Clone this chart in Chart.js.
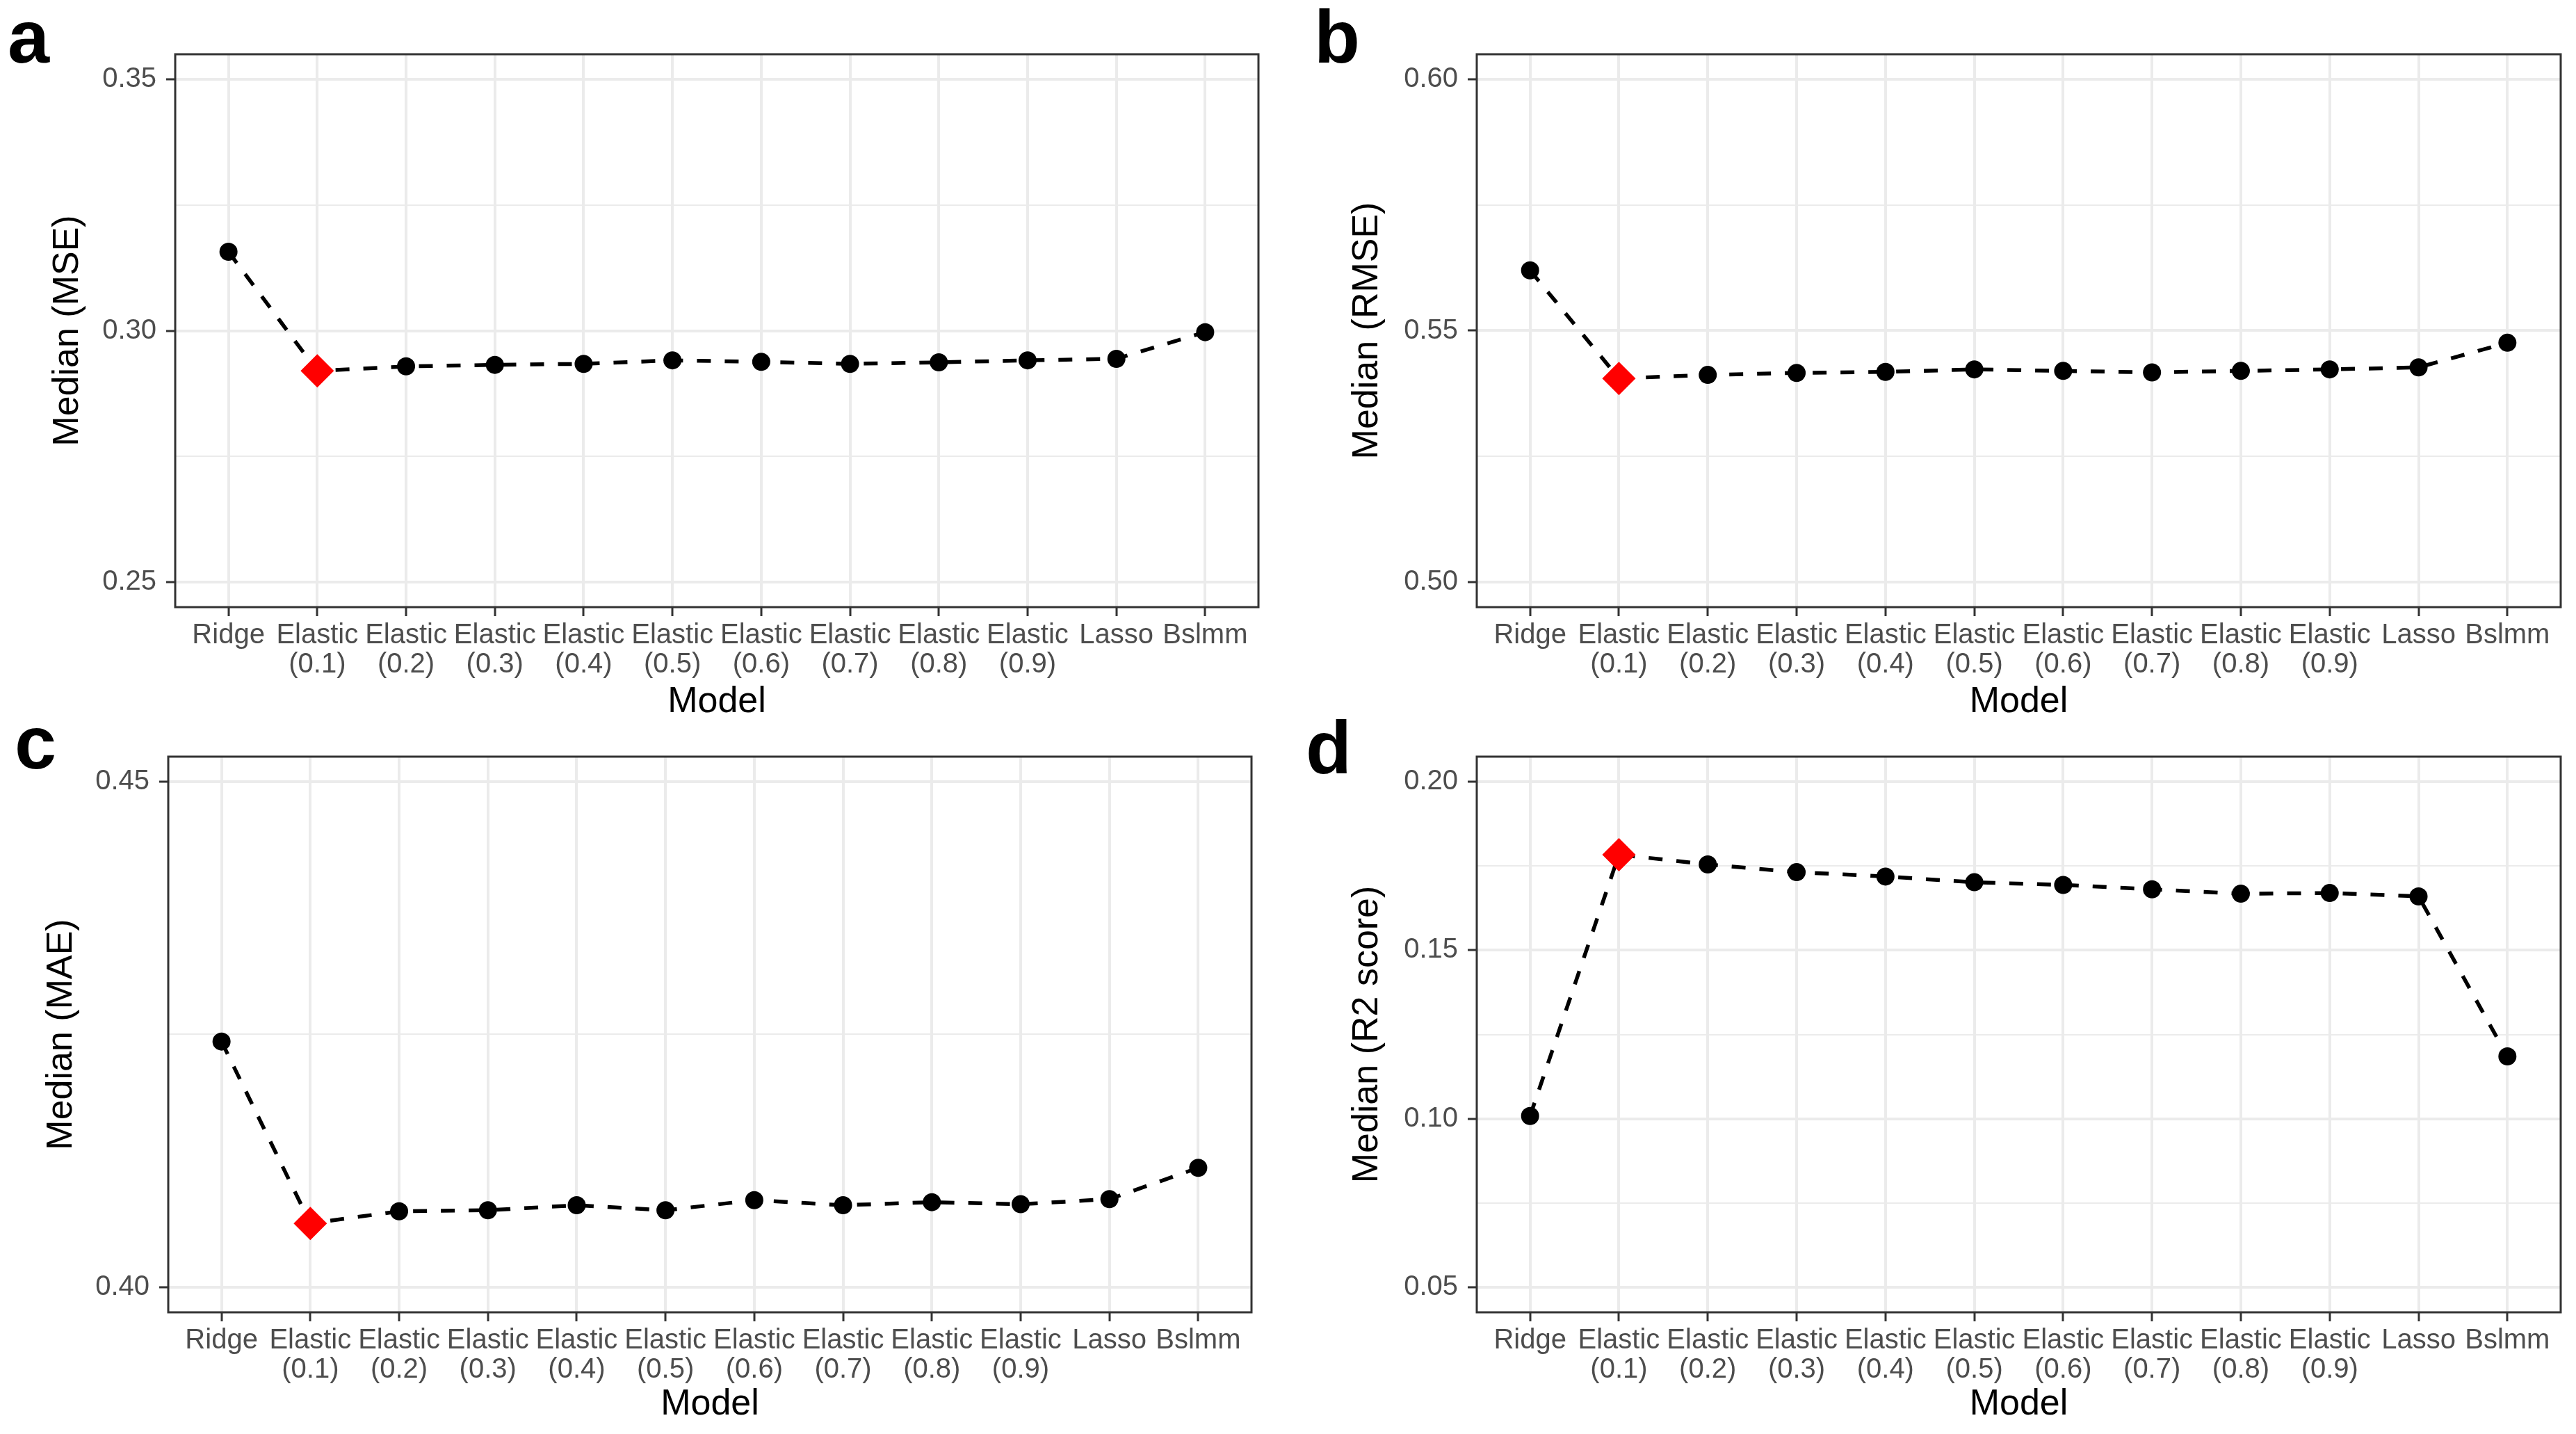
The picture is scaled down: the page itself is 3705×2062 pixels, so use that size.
<!DOCTYPE html>
<html>
<head>
<meta charset="utf-8">
<title>Model comparison</title>
<script src="https://cdn.jsdelivr.net/npm/chart.js@4.4.1/dist/chart.umd.min.js"></script>
<style>
  html, body { margin: 0; padding: 0; background: #ffffff; }
  #page { position: relative; width: 3705px; height: 2062px; overflow: hidden; background: #ffffff; }
  #page canvas { position: absolute; }
  .tag {
    position: absolute;
    font-family: 'Liberation Sans', Arial, Helvetica, sans-serif;
    font-weight: bold;
    font-size: 108px;
    line-height: 108px;
    color: #000;
  }
</style>
</head>
<body>
<div id="page">
  <canvas id="chartMSE" width="1850" height="1045" style="left:0px;top:0px"></canvas>
  <canvas id="chartRMSE" width="1855" height="1045" style="left:1850px;top:0px"></canvas>
  <canvas id="chartMAE" width="1850" height="1017" style="left:0px;top:1045px"></canvas>
  <canvas id="chartR2" width="1855" height="1017" style="left:1850px;top:1045px"></canvas>

  <div class="tag" style="left:11px;top:-1px">a</div>
  <div class="tag" style="left:1890px;top:-1px">b</div>
  <div class="tag" style="left:21px;top:1014px">c</div>
  <div class="tag" style="left:1878px;top:1021px">d</div>
</div>

<script>
// Models on the x axis
const modelLabels = [
    'Ridge',
    ['Elastic', '(0.1)'], ['Elastic', '(0.2)'], ['Elastic', '(0.3)'],
    ['Elastic', '(0.4)'], ['Elastic', '(0.5)'], ['Elastic', '(0.6)'],
    ['Elastic', '(0.7)'], ['Elastic', '(0.8)'], ['Elastic', '(0.9)'],
    'Lasso', 'Bslmm'
];

// Median metric per model
const mseMedian  = [0.3157, 0.2920, 0.2929, 0.2932, 0.2934, 0.2941, 0.2938, 0.2934, 0.2937, 0.2941, 0.2944, 0.2997];
const rmseMedian = [0.5620, 0.5405, 0.5412, 0.5416, 0.5418, 0.5423, 0.5420, 0.5417, 0.5420, 0.5423, 0.5427, 0.5476];
const maeMedian  = [0.4243, 0.4063, 0.4075, 0.4076, 0.4081, 0.4076, 0.4086, 0.4081, 0.4084, 0.4082, 0.4087, 0.4118];
const r2Median   = [0.1008, 0.1784, 0.1755, 0.1732, 0.1719, 0.1702, 0.1694, 0.1681, 0.1668, 0.1670, 0.1660, 0.1185];

// Best model (highlighted with red diamond)
const bestModelIndex = 1;

// Labelled y ticks for each panel
const mseTicks  = [0.25, 0.30, 0.35];
const rmseTicks = [0.50, 0.55, 0.60];
const maeTicks  = [0.40, 0.45];
const r2Ticks   = [0.05, 0.10, 0.15, 0.20];

const FONT = "'Liberation Sans', Arial, Helvetica, sans-serif";
const GRID = '#ebebeb';
const DARK = '#333333';

// Draw the full panel frame on top (theme_bw style)
const panelBorder = {
    id: 'panelBorder',
    afterDraw(chart) {
        const { ctx, chartArea: a } = chart;
        ctx.save();
        ctx.strokeStyle = DARK;
        ctx.lineWidth = 3;
        ctx.strokeRect(a.left, a.top, a.right - a.left, a.bottom - a.top);
        ctx.restore();
    }
};

function makePanel(canvasId, cfg) {
    const points = cfg.values.map((v, i) => ({ x: i, y: v }));
    const span = cfg.ticks[cfg.ticks.length - 1] - cfg.ticks[0];
    const pad = span * 0.05;

    return new Chart(document.getElementById(canvasId), {
        type: 'line',
        data: {
            datasets: [{
                data: points,
                borderColor: '#000000',
                borderWidth: 5.5,
                borderDash: [20, 20],
                fill: false,
                tension: 0,
                pointStyle: ctx => ctx.dataIndex === bestModelIndex ? 'rectRot' : 'circle',
                pointRadius: ctx => ctx.dataIndex === bestModelIndex ? 24 : 13,
                pointBackgroundColor: ctx => ctx.dataIndex === bestModelIndex ? '#ff0000' : '#000000',
                pointBorderWidth: 0,
                pointHoverRadius: 13
            }]
        },
        options: {
            responsive: false,
            animation: false,
            devicePixelRatio: 1,
            layout: {
                padding: { top: cfg.top, right: cfg.right, left: 0, bottom: 0 }
            },
            plugins: {
                legend: { display: false },
                tooltip: { enabled: false }
            },
            scales: {
                x: {
                    type: 'linear',
                    min: -0.6,
                    max: modelLabels.length - 1 + 0.6,
                    afterBuildTicks: scale => {
                        scale.ticks = modelLabels.map((_, i) => ({ value: i }));
                    },
                    afterFit: scale => { scale.height = cfg.xHeight; },
                    border: { display: false },
                    grid: {
                        color: GRID,
                        lineWidth: 4,
                        drawTicks: true,
                        tickLength: 13,
                        tickWidth: 3,
                        tickColor: DARK
                    },
                    ticks: {
                        autoSkip: false,
                        maxRotation: 0,
                        minRotation: 0,
                        padding: 7,
                        color: '#4d4d4d',
                        font: { family: FONT, size: 40, lineHeight: 1.05 },
                        callback: v => modelLabels[v]
                    },
                    title: {
                        display: true,
                        text: 'Model',
                        color: '#000000',
                        font: { family: FONT, size: 52, lineHeight: 1 },
                        padding: { top: 0, bottom: cfg.xTitlePad }
                    }
                },
                y: {
                    type: 'linear',
                    min: cfg.ticks[0] - pad,
                    max: cfg.ticks[cfg.ticks.length - 1] + pad,
                    afterBuildTicks: scale => {
                        const t = [];
                        cfg.ticks.forEach((v, i) => {
                            t.push({ value: v });
                            if (i < cfg.ticks.length - 1) {
                                t.push({ value: (v + cfg.ticks[i + 1]) / 2, minor: true });
                            }
                        });
                        scale.ticks = t;
                    },
                    afterFit: scale => { scale.width = cfg.yWidth; },
                    border: { display: false },
                    grid: {
                        color: GRID,
                        lineWidth: c => (c.tick && c.tick.minor) ? 2 : 4,
                        drawTicks: true,
                        tickLength: 13,
                        tickWidth: 3,
                        tickColor: c => (c.tick && c.tick.minor) ? 'rgba(0,0,0,0)' : DARK
                    },
                    ticks: {
                        padding: 14,
                        color: '#4d4d4d',
                        font: { family: FONT, size: 40 },
                        callback: (value, index, ticks) => ticks[index].minor ? '' : value.toFixed(2)
                    },
                    title: {
                        display: true,
                        text: cfg.yTitle,
                        color: '#000000',
                        font: { family: FONT, size: 52, lineHeight: 1 },
                        padding: { top: cfg.yTitlePad, bottom: 0 }
                    }
                }
            }
        },
        plugins: [panelBorder]
    });
}

makePanel('chartMSE', {
    values: mseMedian, ticks: mseTicks, yTitle: 'Median (MSE)',
    top: 78, right: 40, yWidth: 252, xHeight: 172, xTitlePad: 9, yTitlePad: 72
});
makePanel('chartRMSE', {
    values: rmseMedian, ticks: rmseTicks, yTitle: 'Median (RMSE)',
    top: 78, right: 22, yWidth: 274, xHeight: 172, xTitlePad: 9, yTitlePad: 91
});
makePanel('chartMAE', {
    values: maeMedian, ticks: maeTicks, yTitle: 'Median (MAE)',
    top: 43, right: 50, yWidth: 242, xHeight: 175, xTitlePad: 16, yTitlePad: 63
});
makePanel('chartR2', {
    values: r2Median, ticks: r2Ticks, yTitle: 'Median (R2 score)',
    top: 43, right: 22, yWidth: 274, xHeight: 175, xTitlePad: 16, yTitlePad: 91
});
</script>
</body>
</html>
